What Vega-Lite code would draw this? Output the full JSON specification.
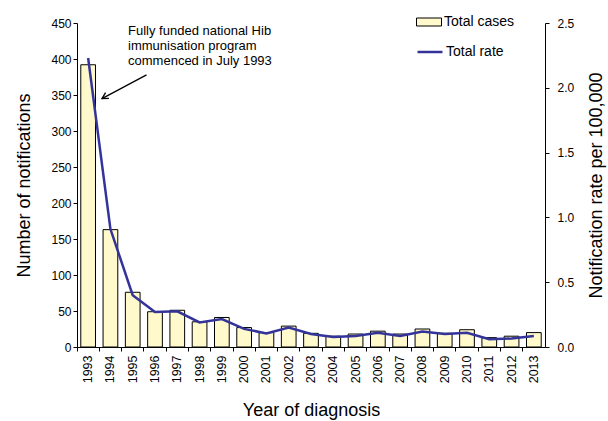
{
  "$schema": "https://vega.github.io/schema/vega-lite/v6.json",
  "width": 468,
  "height": 324,
  "autosize": "none",
  "padding": {"left": 77, "top": 23, "right": 63, "bottom": 74},
  "background": "white",
  "config": {
    "font": "Liberation Sans",
    "view": {"stroke": null},
    "axis": {
      "domainColor": "black", "tickColor": "black", "labelColor": "black", "titleColor": "black",
      "labelFont": "Liberation Sans", "titleFont": "Liberation Sans", "titleFontWeight": "normal",
      "labelFontSize": 12, "titleFontSize": 18, "grid": false, "tickSize": 4, "domainWidth": 1, "tickWidth": 1
    },
    "legend": {"labelFont": "Liberation Sans", "labelFontSize": 14, "labelColor": "black", "padding": 0}
  },
  "datasets": {
    "main": [
      {"year": "1993", "cases": 392, "rate": 2.23},
      {"year": "1994", "cases": 163, "rate": 0.91},
      {"year": "1995", "cases": 76, "rate": 0.40},
      {"year": "1996", "cases": 49, "rate": 0.27},
      {"year": "1997", "cases": 51, "rate": 0.275},
      {"year": "1998", "cases": 35, "rate": 0.19},
      {"year": "1999", "cases": 41, "rate": 0.215},
      {"year": "2000", "cases": 27, "rate": 0.14},
      {"year": "2001", "cases": 20, "rate": 0.105},
      {"year": "2002", "cases": 29, "rate": 0.15},
      {"year": "2003", "cases": 19, "rate": 0.10},
      {"year": "2004", "cases": 15, "rate": 0.077},
      {"year": "2005", "cases": 18, "rate": 0.085},
      {"year": "2006", "cases": 22, "rate": 0.11},
      {"year": "2007", "cases": 18, "rate": 0.085},
      {"year": "2008", "cases": 25, "rate": 0.12},
      {"year": "2009", "cases": 19, "rate": 0.10},
      {"year": "2010", "cases": 24, "rate": 0.11},
      {"year": "2011", "cases": 13, "rate": 0.06},
      {"year": "2012", "cases": 15, "rate": 0.065},
      {"year": "2013", "cases": 20, "rate": 0.085}
    ],
    "note": [
      {"year": "1995", "value": 433, "text": ["Fully funded national Hib", "immunisation program", "commenced in July 1993"]}
    ],
    "arrow": [
      {"year": "1996", "value": 378, "ord": 1},
      {"year": "1994", "value": 345, "ord": 2}
    ],
    "head": [
      {"year": "1994", "value": 345}
    ]
  },
  "layer": [
    {
      "data": {"name": "main"},
      "mark": {"type": "bar", "width": {"band": 0.66}, "stroke": "black", "strokeWidth": 1},
      "encoding": {
        "x": {
          "field": "year", "type": "nominal", "sort": null,
          "scale": {"paddingInner": 0, "paddingOuter": 0},
          "title": "Year of diagnosis",
          "axis": {"labelAngle": 270, "labelAlign": "right", "labelBaseline": "middle", "bandPosition": 0, "labelPadding": 4, "labelFontSize": 12.5, "titlePadding": 19}
        },
        "y": {
          "field": "cases", "type": "quantitative",
          "scale": {"domain": [0, 450], "nice": false},
          "title": "Number of notifications",
          "axis": {"orient": "left", "values": [0, 50, 100, 150, 200, 250, 300, 350, 400, 450], "labelPadding": 2, "titlePadding": 17}
        },
        "fill": {
          "datum": "Total cases",
          "scale": {"range": ["#FFF9CC"]},
          "legend": {"title": null, "orient": "none", "legendX": 339, "legendY": -14, "symbolType": "M-1,-0.32H1V0.32H-1Z", "symbolSize": 625, "symbolStrokeColor": "black", "symbolStrokeWidth": 1, "labelOffset": 2}
        }
      }
    },
    {
      "data": {"name": "main"},
      "mark": {"type": "line", "strokeWidth": 2.5},
      "encoding": {
        "x": {"field": "year", "type": "nominal", "sort": null, "title": "Year of diagnosis"},
        "y": {
          "field": "rate", "type": "quantitative",
          "scale": {"domain": [0, 2.5], "nice": false},
          "title": "Notification rate per 100,000",
          "axis": {"orient": "right", "values": [0, 0.5, 1, 1.5, 2, 2.5], "format": ".1f", "labelPadding": 8, "titleAngle": 270, "titleBaseline": "top", "titlePadding": 14}
        },
        "stroke": {
          "datum": "Total rate",
          "scale": {"range": ["#333399"]},
          "legend": {"title": null, "orient": "none", "legendX": 339, "legendY": 15, "symbolType": "stroke", "symbolSize": 625, "symbolStrokeWidth": 2.5, "labelOffset": 2}
        }
      }
    },
    {
      "data": {"name": "note"},
      "mark": {"type": "text", "align": "left", "baseline": "alphabetic", "fontSize": 13, "lineHeight": 15, "font": "Liberation Sans", "color": "black"},
      "encoding": {
        "x": {"field": "year", "type": "nominal", "sort": null, "bandPosition": 0.29, "title": "Year of diagnosis"},
        "y": {"field": "value", "type": "quantitative", "scale": {"domain": [0, 450], "nice": false}, "axis": null},
        "text": {"field": "text"}
      }
    },
    {
      "data": {"name": "arrow"},
      "mark": {"type": "line", "color": "black", "strokeWidth": 1.3},
      "encoding": {
        "x": {"field": "year", "type": "nominal", "sort": null, "bandPosition": 0.12, "title": "Year of diagnosis"},
        "y": {"field": "value", "type": "quantitative", "scale": {"domain": [0, 450], "nice": false}, "axis": null},
        "order": {"field": "ord"}
      }
    },
    {
      "data": {"name": "head"},
      "mark": {"type": "point", "shape": "M1,-0.55L0,0L1,0.55", "filled": false, "stroke": "black", "strokeWidth": 1.3, "size": 150, "angle": 330, "opacity": 1},
      "encoding": {
        "x": {"field": "year", "type": "nominal", "sort": null, "bandPosition": 0.12, "title": "Year of diagnosis"},
        "y": {"field": "value", "type": "quantitative", "scale": {"domain": [0, 450], "nice": false}, "axis": null}
      }
    }
  ],
  "resolve": {"scale": {"y": "independent"}}
}
